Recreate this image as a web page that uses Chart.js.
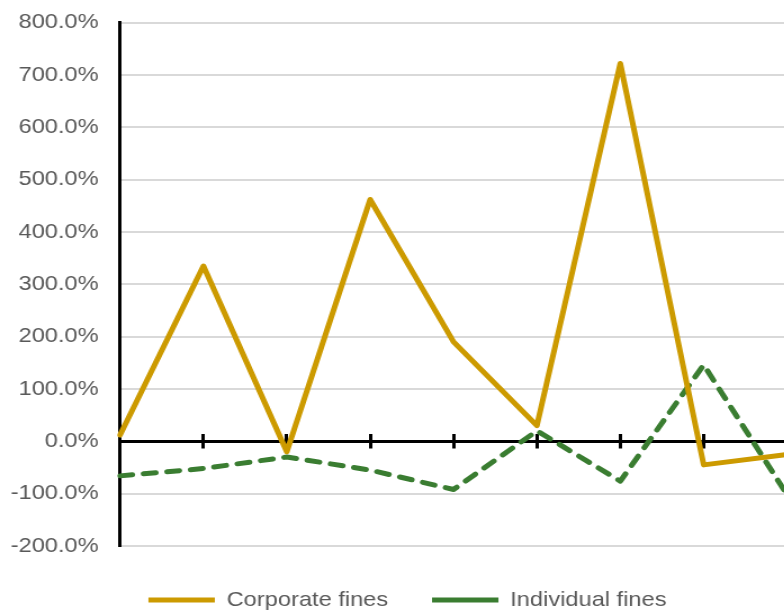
<!DOCTYPE html>
<html>
<head>
<meta charset="utf-8">
<title>Corporate and individual fines</title>
<script src="https://cdn.jsdelivr.net/npm/chart.js@4/dist/chart.umd.min.js"></script>
<style>
  html, body { margin: 0; padding: 0; background: #fff; overflow: hidden; }
  #frame { width: 784px; height: 610px; overflow: hidden; position: relative; }
  /* the chart is drawn on a narrower canvas and widened horizontally */
  #chart { position: absolute; left: 0; top: 0; transform: scaleX(1.125); transform-origin: 0 0; }
</style>
</head>
<body>
<div id="frame"><canvas id="chart" width="745" height="621"></canvas></div>
<script>
// Year-on-year change, in percent
const periods = ['2011', '2012', '2013', '2014', '2015', '2016', '2017', '2018', '2019'];
const corporateFines = [12, 335, -20, 462, 190, 30, 722, -45, -25];
const individualFines = [-66, -52, -30, -55, -92, 20, -76, 146, -102];
const seriesNames = ['Corporate fines', 'Individual fines'];

const yMin = -200, yMax = 800, yStep = 100;

const GOLD = '#cc9a00';
const GREEN = '#3a7d31';
const TEXT = '#595959';
const GRID = '#d9d9d9';

Chart.defaults.font.family = "'Liberation Sans', Arial, sans-serif";
Chart.defaults.font.size = 21;
Chart.defaults.color = TEXT;

const tickMarks = {
  drawOnChartArea: false,
  drawTicks: true,
  tickWidth: 3,
  tickColor: '#000'
};

new Chart(document.getElementById('chart'), {
  type: 'line',
  data: {
    labels: periods,
    datasets: [
      {
        label: seriesNames[0],
        data: corporateFines,
        borderColor: GOLD,
        backgroundColor: GOLD,
        borderWidth: 5,
        borderJoinStyle: 'round',
        borderCapStyle: 'round',
        pointRadius: 0,
        tension: 0,
        xAxisID: 'x',
        yAxisID: 'y'
      },
      {
        label: seriesNames[1],
        data: individualFines,
        borderColor: GREEN,
        backgroundColor: GREEN,
        borderWidth: 5,
        borderDash: [11, 10],
        borderJoinStyle: 'round',
        borderCapStyle: 'round',
        pointRadius: 0,
        tension: 0,
        xAxisID: 'x',
        yAxisID: 'y'
      }
    ]
  },
  options: {
    responsive: false,
    animation: false,
    devicePixelRatio: 1,
    layout: { autoPadding: false, padding: { left: 0, right: 20.6, top: 22.6, bottom: 0.5 } },
    plugins: {
      tooltip: { enabled: false },
      legend: {
        position: 'bottom',
        labels: {
          usePointStyle: true,
          pointStyle: 'line',
          pointStyleWidth: 59,
          boxHeight: 21,
          padding: 39,
          color: TEXT,
          font: { size: 21 }
        }
      }
    },
    scales: {
      // category axis along the zero line, tick marks hanging below it
      x: {
        type: 'category',
        position: { y: 0 },
        offset: false,
        border: { display: true, color: '#000', width: 3 },
        grid: Object.assign({ tickLength: 5.5 }, tickMarks),
        ticks: { display: false }
      },
      // same categories, tick marks rising above the zero line
      x2: {
        type: 'category',
        axis: 'x',
        position: { y: 0 },
        offset: false,
        border: { display: false },
        grid: Object.assign({ tickLength: -7 }, tickMarks),
        ticks: { display: false }
      },
      // spacer between the plot and the legend
      xgap: {
        type: 'category',
        axis: 'x',
        position: 'bottom',
        border: { display: false },
        grid: { display: false },
        ticks: { display: false },
        afterFit: (scale) => { scale.height = 4.5; }
      },
      y: {
        type: 'linear',
        min: yMin,
        max: yMax,
        border: { display: true, color: '#000', width: 3 },
        grid: {
          drawTicks: false,
          lineWidth: 2,
          color: (ctx) => (ctx.tick && ctx.tick.value === 0 ? 'rgba(0,0,0,0)' : GRID)
        },
        ticks: {
          stepSize: yStep,
          padding: 19,
          color: TEXT,
          font: { size: 21 },
          callback: (v) => v.toFixed(1) + '%'
        },
        afterFit: (scale) => {
          scale.width = 106.7;
          scale.paddingTop = 12;
          scale.paddingBottom = 12;
        }
      },
      // empty margin on the right of the plot
      yright: {
        type: 'linear',
        axis: 'y',
        position: 'right',
        min: yMin,
        max: yMax,
        border: { display: false },
        grid: { display: false },
        ticks: { display: false },
        afterFit: (scale) => { scale.width = 24.8; }
      }
    }
  }
});
</script>
</body>
</html>
